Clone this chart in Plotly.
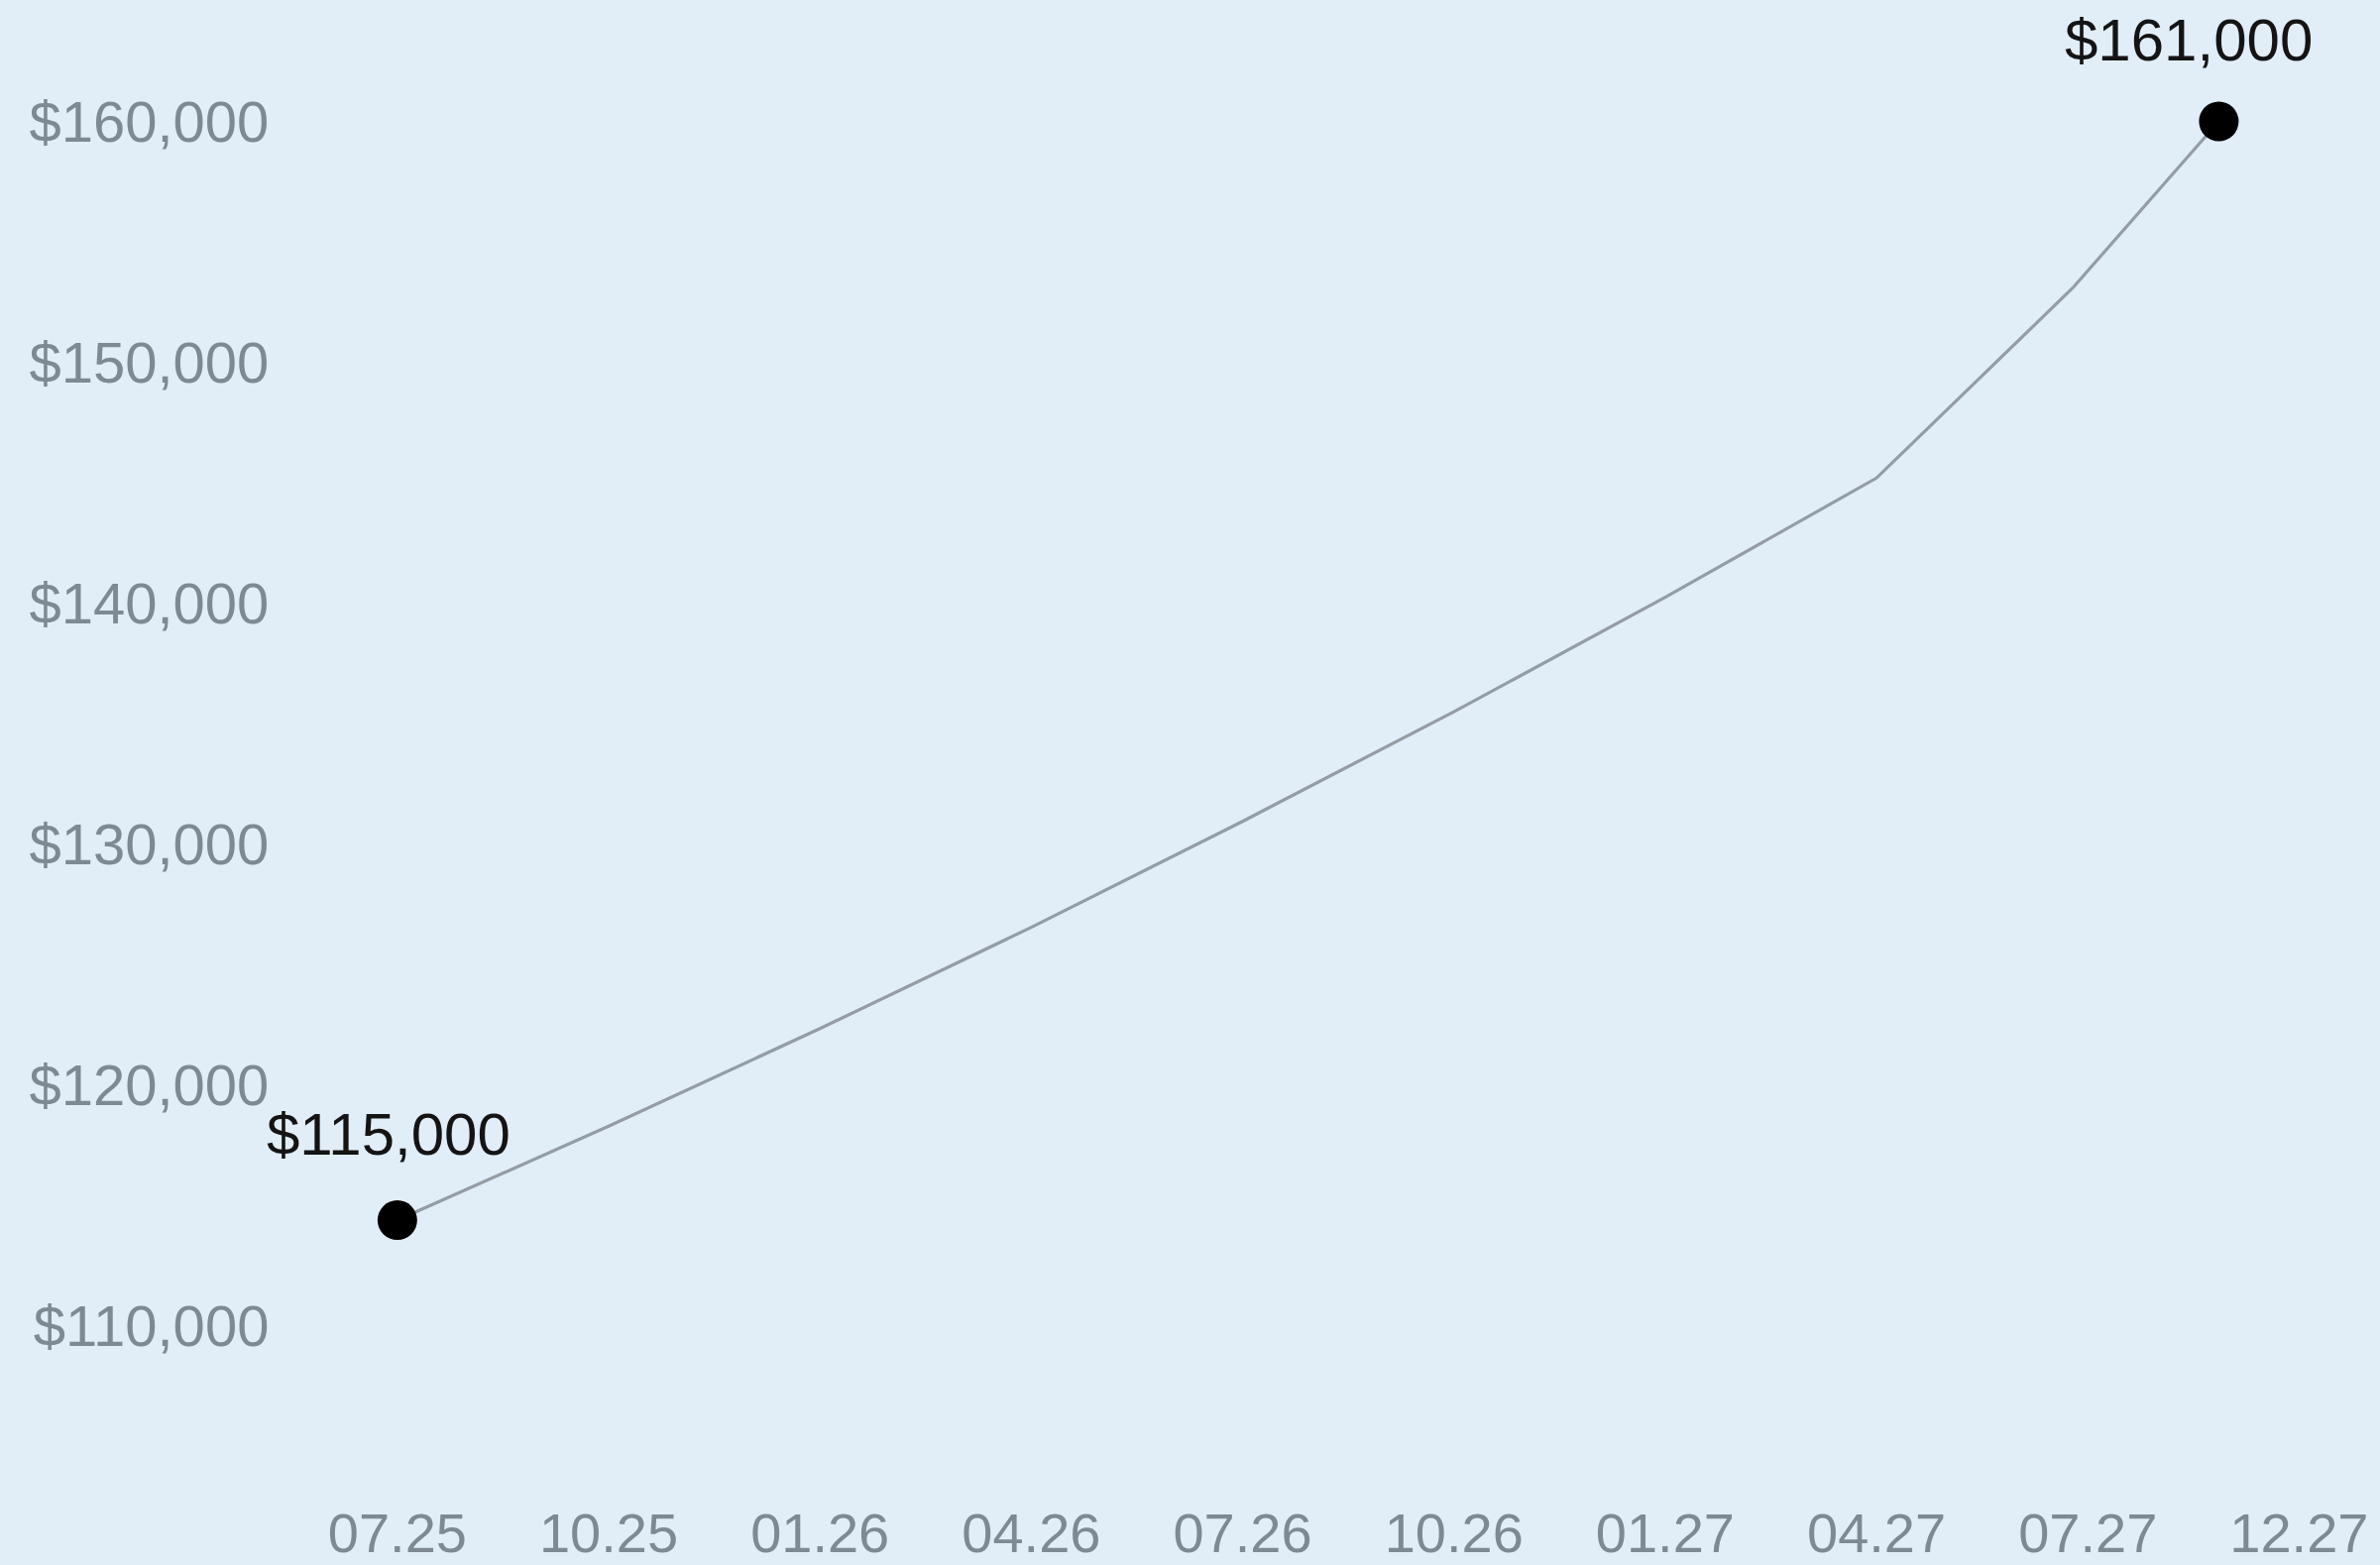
import plotly.graph_objects as go

# x tick labels (evenly spaced on the axis)
tick_labels = ["07.25", "10.25", "01.26", "04.26", "07.26",
               "10.26", "01.27", "04.27", "07.27", "12.27"]

# series: position along the tick axis and value
x_pos = [0, 1, 2, 3, 4, 5, 6, 7, 7.93, 8.62]
values = [114400, 118300, 122350, 126550, 130950, 135500, 140250, 145200, 153100, 160000]

# end point labels
end_labels = ["$115,000", "$161,000"]

y_ticks = [110000, 120000, 130000, 140000, 150000, 160000]

bg = "#E1EEF8"
tick_color = "#7F8993"

fig = go.Figure()

fig.add_trace(go.Scatter(
    x=x_pos,
    y=values,
    mode="lines",
    line=dict(color="#959CA3", width=3.2),
    hoverinfo="skip",
))

fig.add_trace(go.Scatter(
    x=[x_pos[0], x_pos[-1]],
    y=[values[0], values[-1]],
    mode="markers",
    marker=dict(color="#000000", size=40),
    hoverinfo="skip",
))

# value labels above the first and last points
shifts = [(-9, 87), (-30, 82)]
for (xv, yv), text, (dx, dy) in zip([(x_pos[0], values[0]), (x_pos[-1], values[-1])], end_labels, shifts):
    fig.add_annotation(
        x=xv, y=yv, text=text, showarrow=False,
        xshift=dx, yshift=dy,
        font=dict(family="Liberation Sans, Arial, sans-serif", size=60, color="#141414"),
    )

fig.update_layout(
    width=2401,
    height=1579,
    template="none",
    showlegend=False,
    paper_bgcolor=bg,
    plot_bgcolor=bg,
    margin=dict(l=290, r=7, t=20, b=70),
    font=dict(family="Liberation Sans, Arial, sans-serif", color=tick_color, size=56),
)

fig.update_xaxes(
    range=[-0.52, 9.35],
    tickvals=list(range(len(tick_labels))),
    ticktext=tick_labels,
    showgrid=False,
    zeroline=False,
    showline=False,
    ticks="",
    automargin=False,
    tickfont=dict(size=56, color=tick_color),
)

fig.update_yaxes(
    range=[102966, 164216],
    tickvals=y_ticks,
    tickformat="$,.0f",
    showgrid=False,
    zeroline=False,
    showline=False,
    ticks="outside",
    ticklen=6,
    tickcolor="rgba(0,0,0,0)",
    automargin=False,
    tickfont=dict(size=58, color=tick_color),
)

# drop the browser's default body margin so the chart fills the page
fig.write_html(
    "out.html",
    config={"displayModeBar": False},
    post_script="document.body.style.margin='0';",
)
